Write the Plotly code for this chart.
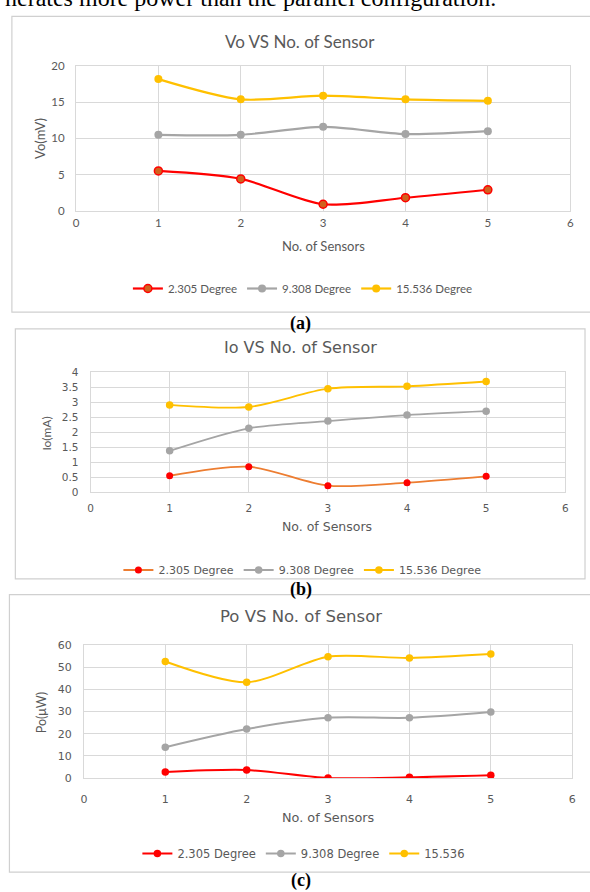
import plotly.graph_objects as go

# ---- data -------------------------------------------------------------
sensors = [1, 2, 3, 4, 5]
series_names = ["2.305 Degree", "9.308 Degree", "15.536 Degree"]
series_names_c = ["2.305 Degree", "9.308 Degree", "15.536"]

vo_2305 = [5.5, 4.4, 0.9, 1.8, 2.9]
vo_9308 = [10.5, 10.5, 11.6, 10.6, 11.0]
vo_15536 = [18.2, 15.4, 15.9, 15.4, 15.2]

io_2305 = [0.55, 0.85, 0.22, 0.32, 0.53]
io_9308 = [1.38, 2.13, 2.37, 2.57, 2.70]
io_15536 = [2.91, 2.84, 3.45, 3.53, 3.69]

po_2305 = [2.7, 3.6, 0.0, 0.3, 1.2]
po_9308 = [13.9, 22.1, 27.2, 27.2, 29.8]
po_15536 = [52.6, 43.2, 54.8, 54.2, 56.0]

W, H = 590, 892
TXT = "#595959"
GRID = "#D9D9D9"
GRAY = "#A5A5A5"
GOLD = "#FFC000"


def fx(px):
    return px / W


def fy(py):
    return 1 - py / H


fig = go.Figure()


def add_series(x, y, name, xa, ya, leg, line_color, marker_color,
               marker_line=None, lw=2.2, ms=8):
    fig.add_trace(go.Scatter(
        x=x, y=y, name=name, mode="lines+markers",
        line=dict(color=line_color, width=lw, shape="spline", smoothing=0.8),
        marker=dict(color=marker_color, size=ms,
                    line=dict(color=marker_line or marker_color,
                              width=1.5 if marker_line else 0)),
        xaxis=xa, yaxis=ya, legend=leg,
    ))


# panel (a)
add_series(sensors, vo_2305, series_names[0], "x", "y", "legend",
           "#FF0000", "#D0621E", marker_line="#FF0000")
add_series(sensors, vo_9308, series_names[1], "x", "y", "legend", GRAY, GRAY)
add_series(sensors, vo_15536, series_names[2], "x", "y", "legend", GOLD, GOLD)

# panel (b)
add_series(sensors, io_2305, series_names[0], "x2", "y2", "legend2",
           "#ED7D31", "#FF0000", lw=1.8, ms=7)
add_series(sensors, io_9308, series_names[1], "x2", "y2", "legend2",
           GRAY, GRAY, lw=1.8, ms=7.5)
add_series(sensors, io_15536, series_names[2], "x2", "y2", "legend2",
           GOLD, GOLD, lw=1.8, ms=7.5)

# panel (c)
add_series(sensors, po_2305, series_names_c[0], "x3", "y3", "legend3",
           "#FF0000", "#FF0000", lw=2, ms=7.5)
add_series(sensors, po_9308, series_names_c[1], "x3", "y3", "legend3",
           GRAY, GRAY, lw=2, ms=7.5)
add_series(sensors, po_15536, series_names_c[2], "x3", "y3", "legend3",
           GOLD, GOLD, lw=2, ms=7.5)

FA = "Lato"
FB = "DejaVu Sans"


def xaxis(domain, anchor, font, size, standoff):
    return dict(domain=domain, anchor=anchor, range=[0, 6], dtick=1,
                showgrid=True, gridcolor=GRID, gridwidth=1, zeroline=False,
                showline=True, linecolor=GRID, linewidth=1, mirror=True,
                ticks="", tickfont=dict(family=font, size=size, color=TXT),
                ticklabelstandoff=standoff, fixedrange=True)


def yaxis(domain, anchor, rng, dtick, font, size, standoff):
    return dict(domain=domain, anchor=anchor, range=rng, dtick=dtick,
                showgrid=True, gridcolor=GRID, gridwidth=1, zeroline=False,
                showline=True, linecolor=GRID, linewidth=1, mirror=True,
                ticks="", tickfont=dict(family=font, size=size, color=TXT),
                ticklabelstandoff=standoff, fixedrange=True)


def legend(xc, yc, font, size):
    return dict(orientation="h", x=fx(xc), xanchor="center", y=fy(yc),
                yanchor="middle", bgcolor="rgba(0,0,0,0)",
                font=dict(family=font, size=size, color=TXT),
                itemwidth=30, tracegroupgap=0)


fig.update_layout(
    width=W, height=H, margin=dict(l=0, r=0, t=0, b=0),
    paper_bgcolor="white", plot_bgcolor="white", showlegend=True,
    xaxis=xaxis([fx(73), fx(574)], "y", FA, 11.5, 1),
    yaxis=yaxis([fy(207), fy(60)], "x", [0, 20], 5, FA, 11.5, 8),
    xaxis2=xaxis([fx(87.7), fx(569)], "y2", FB, 10.5, 6),
    yaxis2=yaxis([fy(493), fy(371)], "x2", [0, 4], 0.5, FB, 10.5, 9),
    xaxis3=xaxis([fx(81), fx(576)], "y3", FB, 11, 11),
    yaxis3=yaxis([fy(783.3), fy(648.3)], "x3", [0, 60], 10, FB, 11, 9),
    legend=legend(303, 286, FA, 11.5),
    legend2=legend(302.5, 572, FB, 11),
    legend3=legend(304, 860, FB, 11.5),
)

# chart frames
frames = [(8, 9.5, 596, 310), (11.5, 327, 589, 581), (5.5, 597, 596, 879)]
for x0, y0, x1, y1 in frames:
    fig.add_shape(type="rect", xref="paper", yref="paper",
                  x0=fx(x0), x1=fx(x1), y0=fy(y0), y1=fy(y1),
                  line=dict(color="#D0D0D0", width=1.2), layer="below")


def note(text, x, y, family, size, color=TXT, angle=0, xanchor="center",
         yanchor="middle", bold=False):
    fig.add_annotation(text=f"<b>{text}</b>" if bold else text,
                       x=x, y=y, xref="paper", yref="paper",
                       xanchor=xanchor, yanchor=yanchor, textangle=angle,
                       showarrow=False,
                       font=dict(family=family, size=size, color=color))


# titles
note("Vo VS No. of Sensor", fx(300), fy(35), FA, 17)
note("Io VS No. of Sensor", fx(301), fy(346), FB, 16)
note("Po VS No. of Sensor", fx(301), fy(619), FB, 16.5)

# axis titles
note("No. of Sensors", fx(324), fy(243), FA, 13)
note("Vo(mV)", fx(37), fy(133.5), FA, 13, angle=-90)
note("No. of Sensors", fx(327), fy(528), FB, 12.5)
note("Io(mA)", fx(43), fy(433), FA, 12, angle=-90)
note("No. of Sensors", fx(328.6), fy(823), FB, 12.8)
note("Po(μW)", fx(38), fy(717), FA, 12.5, angle=-90)

# sub-figure captions
serif = "Liberation Serif"
note("(a)", fx(301), fy(321.5), serif, 18, color="black", bold=True)
note("(b)", fx(301), fy(591.5), serif, 18, color="black", bold=True)
note("(c)", fx(301), fy(887), serif, 18, color="black", bold=True)

# running text above the first chart
note("nerates more power than the parallel configuration.", fx(-1), fy(6),
     serif, 24, color="black", xanchor="left", yanchor="bottom")

fig.write_html("out.html")
